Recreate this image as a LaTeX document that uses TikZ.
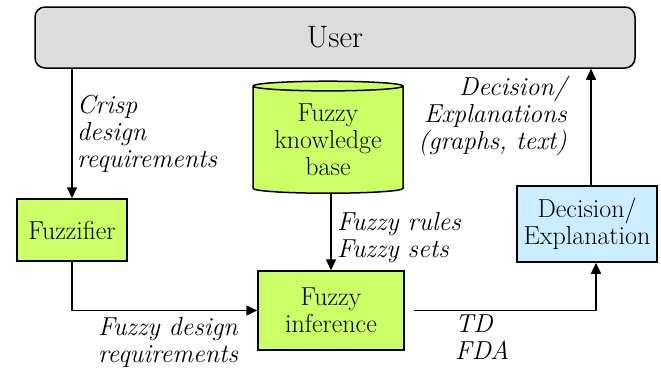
\documentclass[tikz,border=0pt]{standalone}
\usepackage{fontspec}
\usetikzlibrary{arrows.meta,shapes.geometric}

\definecolor{fuzzgreen}{RGB}{204,255,102}
\definecolor{explblue}{RGB}{204,236,255}
\definecolor{usergray}{RGB}{221,221,221}

\newcommand{\boxfont}{\rmfamily\fontsize{26}{27}\selectfont}

\tikzset{
  stage/.style={draw, line width=1.5pt, fill=fuzzgreen, align=center,
    font=\boxfont, inner sep=0pt},
  lbl/.style={font=\boxfont\itshape, inner sep=0pt},
  flow/.style={line width=1.5pt, -{Triangle[width=10pt,length=11pt]}}
}

\begin{document}
\begin{tikzpicture}[x=1pt,y=-1pt]
        \useasboundingbox (0,0) rectangle (661,367);

        % boxes
        \node[stage, fill=usergray, rounded corners=10pt, minimum width=600pt,
              minimum height=61pt, font=\rmfamily\fontsize{31}{32}\selectfont] (user) at (335, 37.5) {User};
        \node[stage, minimum width=110pt, minimum height=62pt] (fuzz) at (72, 230) {Fuzzifier};
        \node[stage, cylinder, shape border rotate=90, aspect=0.09,
              minimum width=150pt, minimum height=112pt] (kb) at (328, 140) {Fuzzy\\knowledge\\base};
        \node[stage, minimum width=146pt, minimum height=79pt] (inf) at (331, 310.5) {Fuzzy\\inference};
        \node[stage, fill=explblue, minimum width=140pt, minimum height=76pt] (expl) at (587, 224) {Decision/\\Explanation};

        % connectors
        \draw[flow] (user.south -| fuzz.north) -- (fuzz.north);
        \draw[flow] (fuzz.south) |- (inf.west);
        \draw[flow] (kb.south -| inf.north) -- (inf.north);
        \draw[flow, shorten <=9pt] (inf.east) -| ([xshift=9pt]expl.south);
        \draw[flow] ([xshift=4pt]expl.north) -- ([xshift=4pt]expl.north |- user.south);

        % labels
        \node[lbl, align=left, anchor=north west] (crisp) at (77, 95) {Crisp\\design\\requirements};
        \node[lbl, align=left, anchor=north west] (rules) at (337, 212) {Fuzzy rules\\Fuzzy sets};
        \node[lbl, align=left, anchor=north west] (fdreq) at (98, 317) {Fuzzy design\\requirements};
        \node[lbl, align=left, anchor=north west] (tdfda) at (455, 315) {TD\\FDA};
        \node[lbl, align=right, anchor=north east] (expls) at (567, 76) {Decision/\\Explanations\\(graphs, text)};

    \end{tikzpicture}
\end{document}
